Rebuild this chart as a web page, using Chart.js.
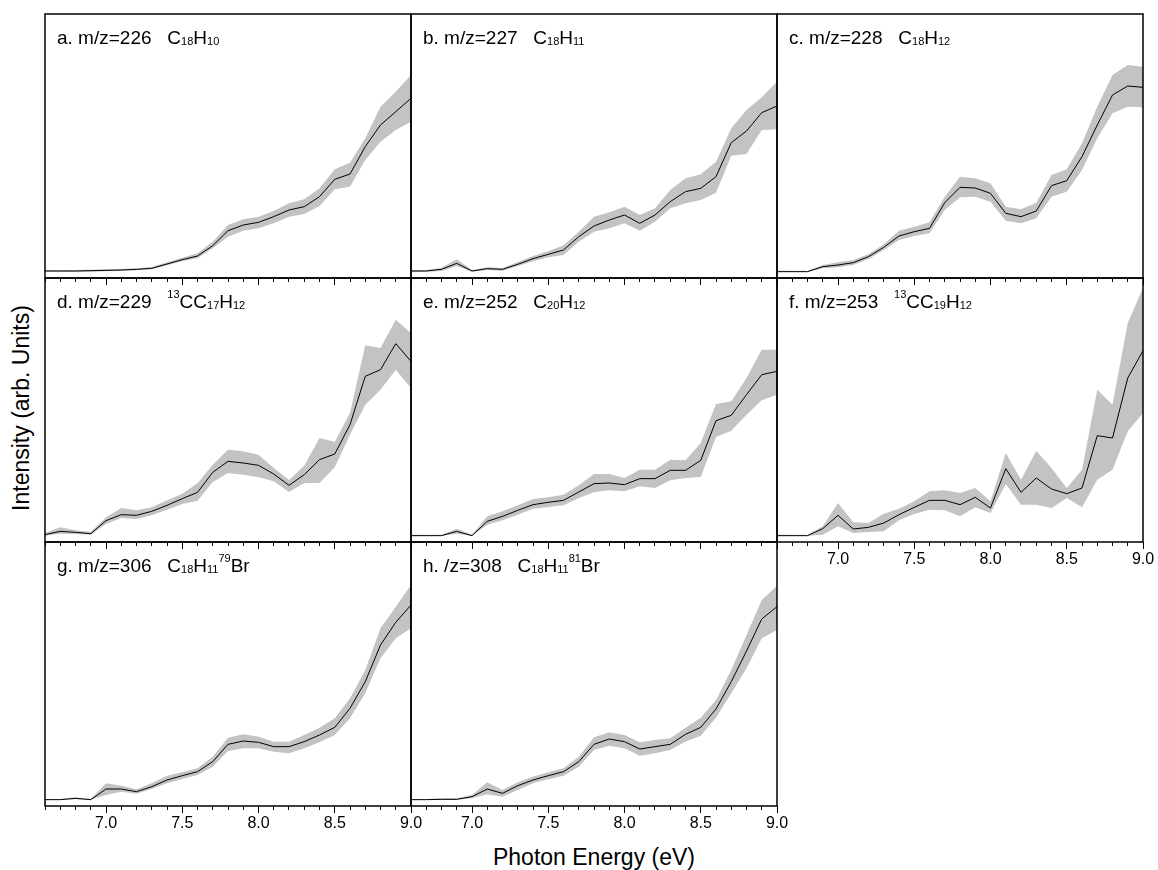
<!DOCTYPE html>
<html>
<head>
<meta charset="utf-8">
<script src="https://cdn.jsdelivr.net/npm/chart.js@4.4.0/dist/chart.umd.min.js"></script>
<style>
  body { margin: 0; background: #fff; }
  #fig { position: relative; width: 1158px; height: 870px; overflow: hidden;
         font-family: "Liberation Sans", Arial, sans-serif; }
  #fig canvas { position: absolute; }
  .axis-title { position: absolute; font-size: 23px; color: #000; white-space: nowrap; }
  #xTitle { left: 594px; top: 857px; transform: translate(-50%, -50%); }
  #yTitle { left: 21px; top: 408px; transform: translate(-50%, -50%) rotate(-90deg); }
</style>
</head>
<body>
<div id="fig">
  <div class="axis-title" id="xTitle">Photon Energy (eV)</div>
  <div class="axis-title" id="yTitle">Intensity (arb. Units)</div>
</div>
<script>
// photon energy grid (eV) and labelled ticks
const energy = [6.6, 6.7, 6.8, 6.9, 7.0, 7.1, 7.2, 7.3, 7.4, 7.5, 7.6, 7.7, 7.8,
                7.9, 8.0, 8.1, 8.2, 8.3, 8.4, 8.5, 8.6, 8.7, 8.8, 8.9, 9.0];
const majorTicks = [7.0, 7.5, 8.0, 8.5, 9.0];

// ion yield curves (arb. units) with upper / lower bounds of the error band
const intA = [0.2,0.2,0.2,0.3,0.4,0.5,0.7,1.0,2.3,3.6,4.7,7.8,12.3,14.0,14.8,16.5,18.5,19.5,22.5,27.7,29.3,37.5,44.0,48.0,52.0];
const hiA  = [0.5,0.5,0.5,0.6,0.7,0.8,1.0,1.4,2.8,4.2,5.5,9.0,14.0,15.7,16.5,18.2,20.5,21.7,25.0,30.7,32.7,40.0,49.5,54.0,59.0];
const loA  = [0,0,0,0,0.1,0.2,0.4,0.7,1.9,3.1,4.0,7.0,10.5,12.3,13.0,14.5,16.5,17.3,19.7,24.7,25.5,33.5,39.0,42.5,45.0];

const intB = [0.2,0.2,0.7,2.5,0.2,0.9,0.7,2.2,3.9,5.2,6.5,10.5,13.7,15.5,17.0,14.5,17.0,21.0,24.0,25.0,28.5,38.7,42.2,47.7,49.7];
const hiB  = [0.5,0.5,1.2,3.7,0.5,1.3,1.1,2.9,4.7,6.1,7.9,12.0,16.5,17.8,19.5,17.0,19.0,24.5,28.0,29.2,33.0,43.0,48.5,52.3,57.0];
const loB  = [0,0,0.2,1.7,0,0.5,0.3,1.7,3.1,4.3,5.0,9.0,12.0,13.0,14.5,12.3,15.0,19.0,20.5,21.5,23.7,34.8,35.3,42.5,42.7];

const intC = [0,0,0,1.5,2.0,2.7,4.5,7.3,10.7,12.0,13.0,20.7,25.3,25.1,23.5,17.5,16.5,18.2,25.8,27.3,34.5,44.0,53.0,55.7,55.3];
const hiC  = [0.3,0.3,0.3,2.0,2.8,3.5,5.2,8.2,12.3,13.5,14.8,22.5,28.5,28.0,26.5,19.5,18.7,20.7,29.0,30.7,38.5,49.5,59.0,62.0,61.5];
const loC  = [0,0,0,1.0,1.3,2.0,3.8,6.5,9.5,10.7,11.5,18.5,22.3,22.5,21.0,15.3,14.5,16.0,22.5,24.0,30.5,40.0,47.5,49.5,49.3];

const intD = [0.3,1.3,1.0,0.6,4.5,6.3,6.1,7.3,9.1,11.1,13.0,19.0,22.3,21.8,21.1,18.5,15.1,18.3,22.8,24.5,33.3,47.8,49.8,57.6,52.3];
const hiD  = [0.8,2.5,1.6,1.1,5.5,8.3,7.6,8.5,10.6,12.6,15.7,21.3,25.8,25.3,24.3,20.3,16.7,21.0,29.3,28.1,36.8,57.1,56.3,64.8,60.8];
const loD  = [0,0.6,0.5,0.3,3.5,5.3,5.0,6.1,7.8,9.5,10.5,16.1,18.8,18.3,17.5,16.3,13.1,15.8,15.8,20.5,30.3,39.3,43.8,49.8,44.3];

const intE = [0,0,0,1.3,0,4.3,5.8,7.6,9.3,10.0,10.6,13.1,15.6,15.8,15.3,17.1,17.1,19.6,19.6,22.6,34.5,36.1,42.3,48.3,49.3];
const hiE  = [0.3,0.3,0.3,2.1,0.3,5.8,7.3,9.1,11.0,11.5,12.3,15.1,18.5,18.5,17.3,19.8,19.8,22.8,22.6,27.8,39.5,40.3,47.3,55.8,55.8];
const loE  = [0,0,0,0.6,0,3.3,4.6,6.3,8.1,8.6,9.1,11.3,13.0,13.6,13.3,14.8,14.3,16.6,17.3,17.6,29.6,31.5,36.3,40.6,42.3];

const intF = [0,0,0,2.1,6.1,2.0,2.5,3.8,6.3,8.5,10.6,10.6,9.3,11.5,8.3,20.1,13.0,17.3,14.0,12.6,14.3,30.0,29.3,47.3,55.5];
const hiF  = [0.3,0.3,0.3,2.8,9.8,4.0,3.8,6.6,8.1,10.3,13.3,13.6,12.8,14.3,10.3,24.8,16.8,25.5,20.3,14.3,19.8,43.8,39.3,63.8,74.3];
const loF  = [0,0,0,0.3,2.8,0.8,1.1,1.3,4.6,6.5,7.8,7.6,5.8,8.5,6.8,15.5,9.3,9.3,8.3,11.3,8.5,16.8,19.8,31.3,36.8];

const intG = [0,0,0.4,0,3.2,3.2,2.4,3.9,5.9,7.2,8.4,11.4,16.6,17.6,17.2,15.9,15.9,17.4,19.4,21.7,27.4,35.4,46.4,53.2,58.4];
const hiG  = [0.2,0.2,0.7,0.2,4.9,4.2,3.1,4.9,7.2,8.2,9.4,12.9,18.6,19.6,18.9,17.4,17.4,19.4,21.6,24.4,30.4,38.9,51.4,57.9,64.4];
const loG  = [0,0,0.1,0,1.4,2.4,1.8,3.2,4.9,6.2,7.4,9.9,14.6,15.4,15.4,14.4,13.9,15.4,17.2,19.4,24.4,31.9,42.4,48.4,51.4];

const intH = [0,0,0.1,0.1,0.9,3.2,1.9,4.2,5.9,7.2,8.4,11.4,16.6,18.2,17.4,15.2,15.9,16.6,19.6,21.7,27.2,35.4,44.6,54.2,57.9];
const hiH  = [0.2,0.2,0.4,0.4,1.4,5.2,2.9,5.2,6.9,8.2,9.4,12.9,18.7,20.2,19.4,17.2,17.9,18.4,21.6,24.6,29.9,38.9,49.4,59.9,64.2];
const loH  = [0,0,0,0,0.4,1.6,0.9,2.9,4.9,6.1,7.2,9.9,14.9,16.2,15.4,13.2,13.9,14.9,17.4,19.2,24.6,31.9,39.4,48.4,50.9];

// panel captions: [text, 'sub' | 'sup' | undefined]
const panels = [
  { col: 0, row: 0, y: intA, hi: hiA, lo: loA, labels: false,
    title: [['a. m/z=226   C'], ['18', 'sub'], ['H'], ['10', 'sub']] },
  { col: 1, row: 0, y: intB, hi: hiB, lo: loB, labels: false,
    title: [['b. m/z=227   C'], ['18', 'sub'], ['H'], ['11', 'sub']] },
  { col: 2, row: 0, y: intC, hi: hiC, lo: loC, labels: false,
    title: [['c. m/z=228   C'], ['18', 'sub'], ['H'], ['12', 'sub']] },
  { col: 0, row: 1, y: intD, hi: hiD, lo: loD, labels: false,
    title: [['d. m/z=229   '], ['13', 'sup'], ['CC'], ['17', 'sub'], ['H'], ['12', 'sub']] },
  { col: 1, row: 1, y: intE, hi: hiE, lo: loE, labels: false,
    title: [['e. m/z=252   C'], ['20', 'sub'], ['H'], ['12', 'sub']] },
  { col: 2, row: 1, y: intF, hi: hiF, lo: loF, labels: true,
    title: [['f. m/z=253   '], ['13', 'sup'], ['CC'], ['19', 'sub'], ['H'], ['12', 'sub']] },
  { col: 0, row: 2, y: intG, hi: hiG, lo: loG, labels: true,
    title: [['g. m/z=306   C'], ['18', 'sub'], ['H'], ['11', 'sub'], ['79', 'sup'], ['Br']] },
  { col: 1, row: 2, y: intH, hi: hiH, lo: loH, labels: true,
    title: [['h. /z=308   C'], ['18', 'sub'], ['H'], ['11', 'sub'], ['81', 'sup'], ['Br']] }
];

const family = '"Liberation Sans", Arial, sans-serif';
const colLeft = [45, 411, 777];
const rowTop = [14, 278, 542];
const panelW = 366, panelH = 264;
const pad = 3, extraR = 16, axisH = 34;
const yMin = -1.9, yMax = 77.3;
const bandColor = '#c3c3c3';

const isMajor = v => Math.abs(v * 2 - Math.round(v * 2)) < 1e-6;
const pts = arr => energy.map((x, i) => ({ x: x, y: arr[i] }));

// frame, long ticks at every 0.5 eV and the caption
function decor(title) {
  return {
    id: 'decor',
    afterDraw(chart) {
      const { ctx, chartArea: a, scales: { x } } = chart;
      ctx.save();
      ctx.strokeStyle = '#000';
      ctx.lineWidth = 1;
      ctx.beginPath();
      majorTicks.forEach(v => {
        const px = Math.round(x.getPixelForValue(v) - 0.5) + 0.5;
        ctx.moveTo(px, a.bottom);
        ctx.lineTo(px, a.bottom + 7);
      });
      ctx.stroke();
      ctx.lineWidth = 1.5;
      ctx.strokeRect(a.left, a.top, a.right - a.left, a.bottom - a.top);

      ctx.fillStyle = '#000';
      ctx.textBaseline = 'alphabetic';
      let cx = a.left + 12;
      const by = a.top + 29.5;
      title.forEach(([t, kind]) => {
        ctx.font = (kind ? '11px ' : '19px ') + family;
        const dy = kind === 'sub' ? 1 : kind === 'sup' ? -9.5 : 0;
        ctx.fillText(t, cx, by + dy);
        cx += ctx.measureText(t).width;
      });
      ctx.restore();
    }
  };
}

const fig = document.getElementById('fig');

panels.forEach(p => {
  const cv = document.createElement('canvas');
  cv.width = panelW + pad + extraR;
  cv.height = panelH + pad + axisH;
  cv.style.left = (colLeft[p.col] - pad) + 'px';
  cv.style.top = (rowTop[p.row] - pad) + 'px';
  fig.appendChild(cv);

  new Chart(cv, {
    type: 'line',
    data: {
      datasets: [
        { data: pts(p.y), borderColor: '#000', borderWidth: 1, pointRadius: 0, fill: false },
        { data: pts(p.hi), borderColor: 'rgba(0,0,0,0)', borderWidth: 0, pointRadius: 0,
          backgroundColor: bandColor, fill: '+1' },
        { data: pts(p.lo), borderColor: 'rgba(0,0,0,0)', borderWidth: 0, pointRadius: 0, fill: false }
      ]
    },
    options: {
      responsive: false,
      animation: false,
      events: [],
      layout: { padding: { left: pad, top: pad, right: extraR, bottom: 0 } },
      plugins: { legend: { display: false }, tooltip: { enabled: false } },
      scales: {
        x: {
          type: 'linear', min: 6.6, max: 9.0,
          afterFit(s) { s.height = axisH; s.paddingLeft = 0; s.paddingRight = 0; },
          grid: { drawOnChartArea: false, tickLength: 4, color: '#000', lineWidth: 1 },
          border: { display: false },
          ticks: {
            stepSize: 0.1, autoSkip: false, maxRotation: 0, display: p.labels,
            padding: 4, color: '#000', font: { family: family, size: 16 },
            callback: v => isMajor(v) ? v.toFixed(1) : ''
          }
        },
        y: { display: false, min: yMin, max: yMax }
      }
    },
    plugins: [decor(p.title)]
  });
});
</script>
</body>
</html>
